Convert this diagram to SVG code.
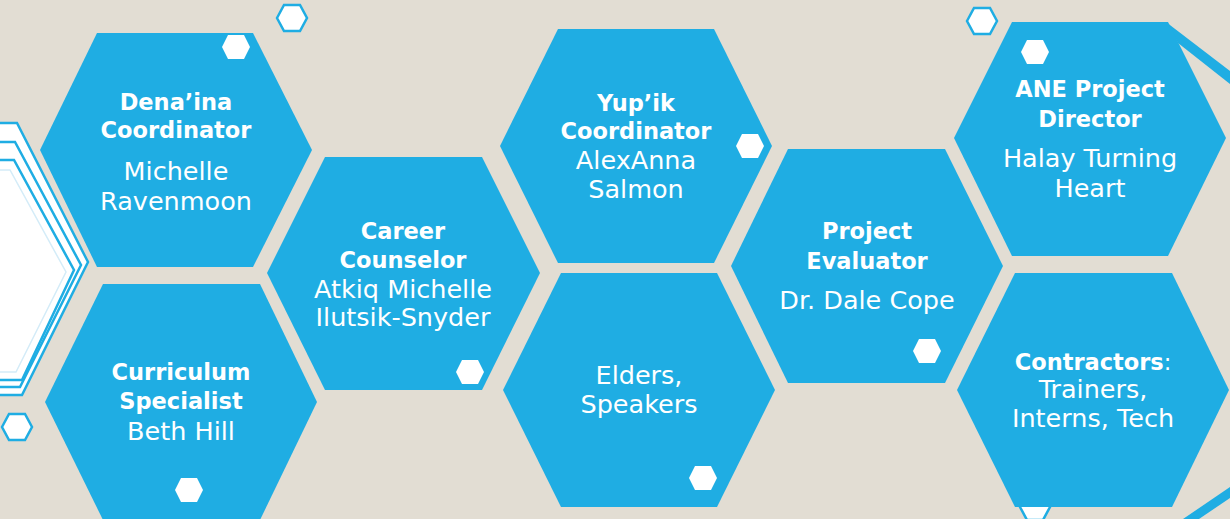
<svg xmlns="http://www.w3.org/2000/svg" width="1230" height="519" viewBox="0 0 1230 519">
<style>
.bg{fill:#E2DDD3}
.hex{fill:#1FADE3}
.deco{fill:#FFFFFF;stroke:#1FADE3;stroke-width:2.5}
.faint{fill:none;stroke:#D4ECF8;stroke-width:1.5}
.dot{fill:#FFFFFF}
.ring{fill:#FFFFFF;stroke:#1FADE3;stroke-width:2.5}
.band{fill:#1FADE3}
text{fill:#FFFFFF;font-family:"DejaVu Sans","Liberation Sans",sans-serif;text-anchor:middle}
.b{font-weight:bold;font-size:22.5px}
.r{font-size:25.5px}
</style>
<defs>
<polygon id="sm" points="-14,0 -8,-12 8,-12 14,0 8,12 -8,12"/>
<polygon id="rg" points="-15,0 -8,-13 8,-13 15,0 8,13 -8,13"/>
</defs>
<rect class="bg" x="0" y="0" width="1230" height="519"/>

<g id="decor">
<polygon class="deco" points="-80,123 17,123 88,262 22,395 -80,395"/>
<polygon class="deco" points="-80,142 15,142 81,265 20,387 -80,387"/>
<polygon class="deco" points="-80,160 14,160 74,270 22,380 -80,380"/>
<polygon class="faint" points="-80,170 10,170 66,272 16,372 -80,372"/>
<use href="#rg" class="ring" x="292" y="18"/>
<use href="#rg" class="ring" x="982" y="21"/>
<use href="#rg" class="ring" x="17" y="427"/>
<use href="#rg" class="ring" x="1035" y="507"/>
<polygon class="band" points="1166,22 1230,71 1230,84 1178,43"/>
<polygon class="band" points="1183,519 1230,487 1230,498 1199,519"/>
</g>

<g id="connectors"></g>

<g id="n-denaina">
<polygon class="hex" points="40,150 97,33 253,33 312,150 253,267 97,267"/>
<use href="#sm" class="dot" x="236" y="47"/>
<text class="b" x="176" y="110">Dena’ina</text>
<text class="b" x="176" y="138">Coordinator</text>
<text class="r" x="176" y="180">Michelle</text>
<text class="r" x="176" y="210">Ravenmoon</text>
</g>

<g id="n-curriculum">
<polygon class="hex" points="45,402 103,284 260,284 317,402 260,520 103,520"/>
<use href="#sm" class="dot" x="189" y="490"/>
<text class="b" x="181" y="380">Curriculum</text>
<text class="b" x="181" y="409">Specialist</text>
<text class="r" x="181" y="440">Beth Hill</text>
</g>

<g id="n-career">
<polygon class="hex" points="267,273 325,157 482,157 540,273 482,390 325,390"/>
<use href="#sm" class="dot" x="470" y="372"/>
<text class="b" x="403" y="239">Career</text>
<text class="b" x="403" y="268">Counselor</text>
<text class="r" x="403" y="298">Atkiq Michelle</text>
<text class="r" x="403" y="326">Ilutsik-Snyder</text>
</g>

<g id="n-yupik">
<polygon class="hex" points="500,146 558,29 714,29 772,146 714,263 558,263"/>
<use href="#sm" class="dot" x="750" y="146"/>
<text class="b" x="636" y="111">Yup’ik</text>
<text class="b" x="636" y="139">Coordinator</text>
<text class="r" x="636" y="169">AlexAnna</text>
<text class="r" x="636" y="198">Salmon</text>
</g>

<g id="n-elders">
<polygon class="hex" points="503,390 561,273 717,273 775,390 717,507 561,507"/>
<use href="#sm" class="dot" x="703" y="478"/>
<text class="r" x="639" y="384">Elders,</text>
<text class="r" x="639" y="413">Speakers</text>
</g>

<g id="n-evaluator">
<polygon class="hex" points="731,266 788,149 945,149 1003,266 945,383 788,383"/>
<use href="#sm" class="dot" x="927" y="351"/>
<text class="b" x="867" y="239">Project</text>
<text class="b" x="867" y="269">Evaluator</text>
<text class="r" x="867" y="309">Dr. Dale Cope</text>
</g>

<g id="n-director">
<polygon class="hex" points="954,138 1012,22 1168,22 1226,138 1168,256 1012,256"/>
<use href="#sm" class="dot" x="1035" y="52"/>
<text class="b" x="1090" y="97">ANE Project</text>
<text class="b" x="1090" y="127">Director</text>
<text class="r" x="1090" y="167">Halay Turning</text>
<text class="r" x="1090" y="197">Heart</text>
</g>

<g id="n-contractors">
<polygon class="hex" points="957,390 1015,273 1172,273 1229,390 1172,507 1015,507"/>
<text class="b" x="1093" y="370">Contractors<tspan font-weight="normal">:</tspan></text>
<text class="r" x="1093" y="398">Trainers,</text>
<text class="r" x="1093" y="427">Interns, Tech</text>
</g>
</svg>
